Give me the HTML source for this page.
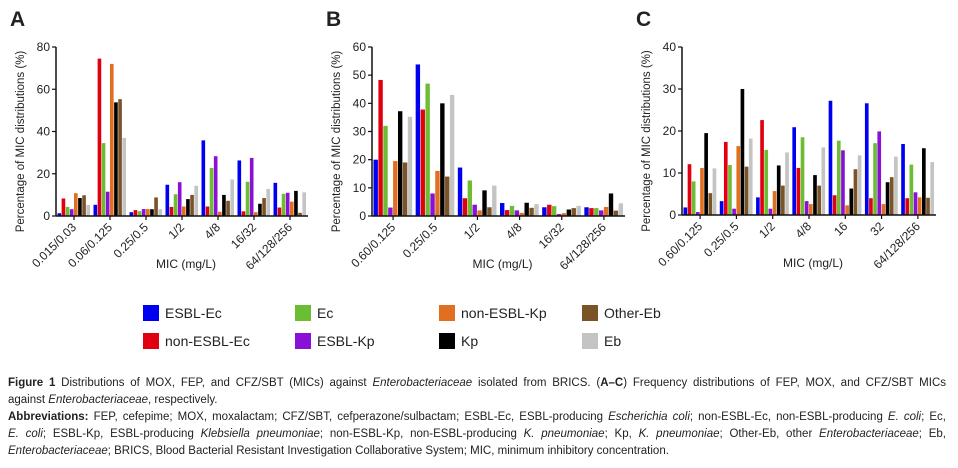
<!DOCTYPE html>
<html><head><meta charset="utf-8">
<style>
body{margin:0;width:958px;height:468px;background:#fff;overflow:hidden;font-family:"Liberation Sans",sans-serif;}
#cap{position:absolute;left:8px;top:375px;width:938px;font-size:11.5px;line-height:17px;color:#222;}
#cap div{white-space:nowrap;}
#cap .j{text-align:justify;text-align-last:justify;}
</style></head><body>
<svg id="chart" width="958" height="370" style="position:absolute;left:0;top:0" font-family="Liberation Sans, sans-serif"></svg>
<div id="cap">
<div class="j"><b>Figure 1</b> Distributions of MOX, FEP, and CFZ/SBT (MICs) against <i>Enterobacteriaceae</i> isolated from BRICS. (<b>A–C</b>) Frequency distributions of FEP, MOX, and CFZ/SBT MICs</div>
<div>against <i>Enterobacteriaceae</i>, respectively.</div>
<div class="j"><b>Abbreviations:</b> FEP, cefepime; MOX, moxalactam; CFZ/SBT, cefperazone/sulbactam; ESBL-Ec, ESBL-producing <i>Escherichia coli</i>; non-ESBL-Ec, non-ESBL-producing <i>E. coli</i>; Ec,</div>
<div class="j"><i>E. coli</i>; ESBL-Kp, ESBL-producing <i>Klebsiella pneumoniae</i>; non-ESBL-Kp, non-ESBL-producing <i>K. pneumoniae</i>; Kp, <i>K. pneumoniae</i>; Other-Eb, other <i>Enterobacteriaceae</i>; Eb,</div>
<div><i>Enterobacteriaceae</i>; BRICS, Blood Bacterial Resistant Investigation Collaborative System; MIC, minimum inhibitory concentration.</div>
</div>
<script>
const seriesNames = ["ESBL-Ec","non-ESBL-Ec","Ec","ESBL-Kp","non-ESBL-Kp","Kp","Other-Eb","Eb"];
const seriesColors = ["#0000f0","#e00010","#6cbc34","#8a10d8","#e07020","#000000","#7a5428","#c4c4c4"];
const catsA = ["0.015/0.03","0.06/0.125","0.25/0.5","1/2","4/8","16/32","64/128/256"];
const catsB = ["0.60/0.125","0.25/0.5","1/2","4/8","16/32","64/128/256"];
const catsC = ["0.60/0.125","0.25/0.5","1/2","4/8","16","32","64/128/256"];
const ticksA = [0,20,40,60,80];
const ticksB = [0,10,20,30,40,50,60];
const ticksC = [0,10,20,30,40];
// values per category: [ESBL-Ec, non-ESBL-Ec, Ec, ESBL-Kp, non-ESBL-Kp, Kp, Other-Eb, Eb]
const valuesA = [
 [1.3,8.3,4.3,3.2,10.8,8.5,9.8,5.2],
 [5.3,74.5,34.5,11.5,72,53.8,55.3,37],
 [1.8,2.8,2.3,3.3,3.3,3.2,8.8,3.2],
 [14.8,4.3,10.3,16,4.5,8,10,14.3],
 [35.8,4.5,22.7,28.3,2,10,7.2,17.3],
 [26.3,2.2,16.2,27.5,1.8,5.8,8.5,12.8],
 [15.7,4,10.5,11,6.8,11.9,1.5,11.2]];
const valuesB = [
 [20,48.3,32,3,19.5,37.2,19,35.2],
 [53.8,37.8,47,8,16,40,14,43],
 [17.2,6.3,12.6,4,2,9.1,3.1,10.8],
 [4.6,2.1,3.6,2,1.1,4.7,2.9,4.2],
 [3.1,4,3.5,0.7,1,2.3,2.8,3.6],
 [3.1,2.8,2.8,2,3.2,8,1.9,4.5]];
const valuesC = [
 [1.8,12.1,8,0.7,11.2,19.5,5.2,11.1],
 [3.3,17.4,11.9,1.5,16.4,30,11.5,18.2],
 [4.2,22.6,15.5,1.5,5.7,11.8,7,14.9],
 [20.9,11.2,18.5,3.3,2.6,9.5,7,16.1],
 [27.2,4.7,17.7,15.4,2.3,6.3,10.9,14.2],
 [26.6,4,17.1,19.9,2.6,7.8,9,13.9],
 [16.9,4,12,5.4,4.2,15.9,4.1,12.6]];

const svg=document.getElementById('chart');
const NS='http://www.w3.org/2000/svg';
function mk(tag,attrs,parent){const e=document.createElementNS(NS,tag);for(const k in attrs)e.setAttribute(k,attrs[k]);(parent||svg).appendChild(e);return e;}

function panel(letter,cats,vals,ticks,x0,x1,yTop,yBot){
  const g=mk('g',{});
  
  
  const ymax=ticks[ticks.length-1];
  const y=v=>yBot-(v/ymax)*(yBot-yTop);
  const bw=(x1-x0)/cats.length;
  const barW=(bw-3)/8;
  const t=mk('text',{x:x0-46,y:26,'font-size':21,'font-weight':'bold',fill:'#222'},g);t.textContent=letter;
  
  
  cats.forEach((c,i)=>{
    vals[i].forEach((v,s)=>{
      const r=mk('rect',{x:x0+i*bw+1.5+s*barW,y:y(v),width:barW-0.5,height:yBot-y(v),fill:seriesColors[s]},g);
      
      
    });
    const cx=x0+i*bw+bw/2;
    mk('line',{x1:cx,x2:cx,y1:yBot,y2:yBot+4,stroke:'#111','stroke-width':1.2},g);
    const lb=mk('text',{x:cx+3,y:yBot+12,'font-size':12,'text-anchor':'end',fill:'#222',transform:`rotate(-45 ${cx+3} ${yBot+12})`},g);
    lb.textContent=c;
    
    
  });
  ticks.forEach(tv=>{
    mk('line',{x1:x0-4,x2:x0,y1:y(tv),y2:y(tv),stroke:'#111','stroke-width':1.2},g);
    const tl=mk('text',{x:x0-6,y:y(tv)+4,'font-size':12,'text-anchor':'end',fill:'#222'},g);
    tl.textContent=tv;
    
    
  });
  mk('line',{x1:x0,x2:x0,y1:yTop,y2:yBot,stroke:'#111','stroke-width':1.5},g);
  mk('line',{x1:x0,x2:x1,y1:yBot,y2:yBot,stroke:'#111','stroke-width':1.5},g);
  const yt=mk('text',{x:x0-32,y:(yTop+yBot)/2+10,'font-size':11.5,'text-anchor':'middle',fill:'#222',transform:`rotate(-90 ${x0-32} ${(yTop+yBot)/2+10})`},g);
  yt.textContent='Percentage of MIC distributions (%)';
  
  
  const xt=mk('text',{x:(x0+x1)/2+4,y:yBot+52,'font-size':12,'text-anchor':'middle',fill:'#222'},g);
  xt.textContent='MIC (mg/L)';
  
  
}
panel('A',catsA,valuesA,ticksA,56,308,47,216);
panel('B',catsB,valuesB,ticksB,372,625,47,216);
panel('C',catsC,valuesC,ticksC,682,936,47,215);

const legX=[143,295,439,582];
const order=[[0,1],[2,3],[4,5],[6,7]];
order.forEach((pair,col)=>{
  pair.forEach((s,row)=>{
    const yy=305+row*28;
    const lg=mk('g',{});
    
    
    mk('rect',{x:legX[col],y:yy,width:16,height:16,fill:seriesColors[s]},lg);
    const tt=mk('text',{x:legX[col]+22,y:yy+13,'font-size':14,fill:'#222'},lg);
    tt.textContent=seriesNames[s];
  });
});
</script>
</body></html>
